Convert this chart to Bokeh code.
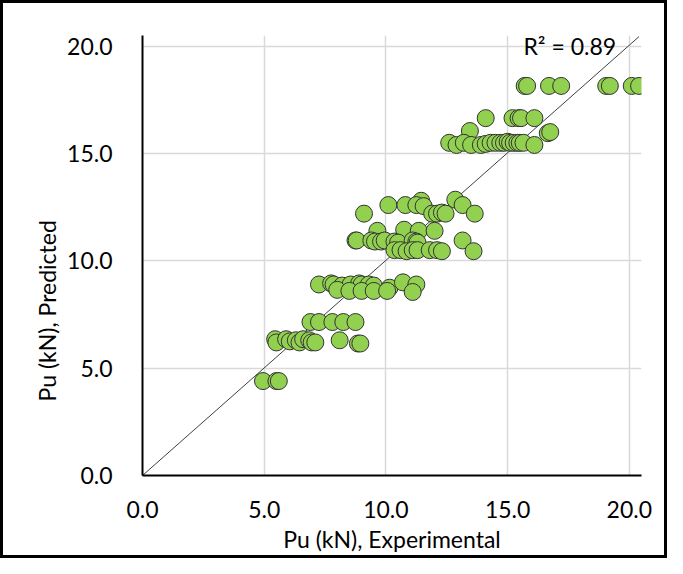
from bokeh.plotting import figure
from bokeh.models import FixedTicker, PrintfTickFormatter, Range1d, Label, ColumnDataSource, Title
from bokeh.embed import file_html
from bokeh.resources import INLINE

# ---- data ----
exp_x = [
    15.7, 15.8, 16.7, 17.2, 19.05, 19.2, 20.1, 20.4,
    14.1, 15.2, 15.45, 15.55, 16.1,
    13.45, 16.65, 16.75,
    12.6, 12.9, 13.2, 13.5, 13.9, 14.1, 14.3, 14.5, 14.7, 14.85, 15.0, 15.1, 15.25, 15.4, 15.5, 15.65, 16.1,
    11.45, 12.85,
    10.1, 10.8, 11.25, 11.55, 13.15,
    9.1, 11.9, 12.1, 12.3, 12.45, 13.65,
    9.65, 10.75, 11.35, 12.0,
    8.75, 8.8, 9.4, 9.55, 9.8, 9.95, 10.35, 10.5, 11.1, 11.25, 11.3, 13.15,
    10.35, 10.6, 10.85, 11.1, 11.3, 11.8, 12.1, 12.3, 13.6,
    7.25, 7.75, 7.85, 8.2, 8.55, 8.9, 9.0, 9.3, 9.5, 10.15, 10.7, 11.25,
    8.0, 8.5, 9.0, 9.5, 10.05, 11.1,
    6.9, 7.25, 7.8, 8.25, 8.75,
    5.45, 5.5, 5.9, 6.05, 6.3, 6.45, 6.6, 6.85, 6.95, 7.1, 8.1, 8.85, 8.95,
    4.95, 5.5, 5.6,
]
pred_y = [
    18.15, 18.15, 18.15, 18.15, 18.15, 18.15, 18.15, 18.15,
    16.65, 16.65, 16.65, 16.65, 16.65,
    16.05, 15.95, 16.0,
    15.5, 15.4, 15.5, 15.4, 15.4, 15.45, 15.5, 15.5, 15.5, 15.5, 15.55, 15.5, 15.5, 15.5, 15.5, 15.5, 15.4,
    12.8, 12.85,
    12.6, 12.6, 12.6, 12.55, 12.6,
    12.2, 12.2, 12.2, 12.25, 12.2, 12.2,
    11.4, 11.45, 11.4, 11.4,
    10.95, 10.95, 10.95, 10.9, 10.9, 10.95, 10.9, 10.85, 10.95, 10.9, 10.85, 10.95,
    10.5, 10.5, 10.45, 10.5, 10.5, 10.5, 10.5, 10.45, 10.45,
    8.9, 8.95, 8.9, 8.85, 8.9, 8.95, 8.9, 8.9, 8.85, 8.75, 9.0, 8.9,
    8.65, 8.6, 8.6, 8.6, 8.6, 8.55,
    7.15, 7.15, 7.15, 7.15, 7.15,
    6.35, 6.2, 6.35, 6.25, 6.3, 6.2, 6.35, 6.3, 6.2, 6.2, 6.3, 6.15, 6.15,
    4.4, 4.4, 4.4,
]
trend_x = [0.0, 20.4]
trend_y = [0.0, 20.45]
ticks = [0, 5, 10, 15, 20]
r2_text = "R\u00b2 = 0.89"
x_title = "Pu (kN), Experimental"
y_title = "Pu (kN), Predicted"

FONT = "Lato"

p = figure(width=667, height=558, output_backend="svg", toolbar_location=None,
           x_range=Range1d(0, 20.5), y_range=Range1d(0, 20.5),
           min_border_left=139, min_border_right=29, min_border_top=32, min_border_bottom=86,
           styles={"border": "3px solid black"})
p.outline_line_color = None
p.background_fill_color = "white"

for ax in (p.xaxis, p.yaxis):
    ax.ticker = FixedTicker(ticks=ticks)
    ax.formatter = PrintfTickFormatter(format="%.1f")
    ax.axis_line_color = "black"
    ax.axis_line_width = 2
    ax.major_tick_line_color = None
    ax.minor_tick_line_color = None
    ax.major_label_text_font = FONT
    ax.major_label_text_font_size = "23px"
    ax.major_label_text_color = "black"
    ax.axis_label_text_font = FONT
    ax.axis_label_text_font_size = "23px"
    ax.axis_label_text_font_style = "normal"
    ax.axis_label_text_color = "black"

p.xaxis.axis_label = x_title
p.xaxis.major_label_standoff = 19
p.xaxis.axis_label_standoff = 4
p.yaxis.major_label_standoff = 24

p.add_layout(Title(text=y_title, align="left", offset=74, standoff=8,
                   text_font=FONT, text_font_size="23px", text_font_style="normal",
                   text_color="black"), "left")

for g in (p.xgrid, p.ygrid):
    g.ticker = FixedTicker(ticks=ticks)
    g.grid_line_color = "#d9d9d9"
    g.grid_line_width = 1.5

p.line(trend_x, trend_y, line_color="#404040", line_width=1)

src = ColumnDataSource(dict(x=exp_x, y=pred_y))
p.scatter("x", "y", source=src, size=17, fill_color="#92D050", line_color="#333333", line_width=1)

p.add_layout(Label(x=15.65, y=20.0, text=r2_text, text_font=FONT, text_font_size="23px",
                   text_color="black", text_baseline="alphabetic"))

open("out.html", "w").write(file_html(p, INLINE))
